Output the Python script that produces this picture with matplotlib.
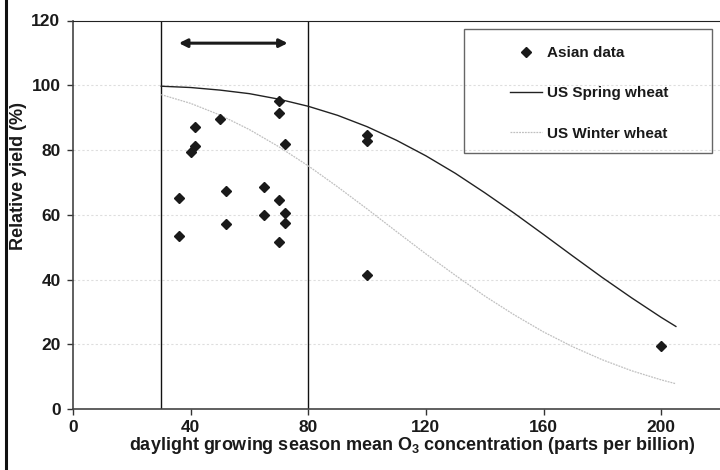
import matplotlib
matplotlib.use('Agg')
import matplotlib.pyplot as plt
from matplotlib.lines import Line2D
from matplotlib.patches import Rectangle

plt.rcParams['font.family'] = ['Liberation Sans', 'DejaVu Sans']
plt.rcParams['font.weight'] = 'bold'
plt.rcParams['mathtext.default'] = 'regular'

# Asian data (O3 ppb, relative yield %)
asian_o3 = [36, 36, 40, 41.5, 41.5, 50, 52, 52, 65, 65, 70, 70, 70, 70,
            72, 72, 72, 100, 100, 100, 200]
asian_yield = [65.1, 53.3, 79.3, 81.3, 87.1, 89.5, 67.2, 57.2, 68.6, 59.9,
               95.2, 91.5, 64.5, 51.5, 81.7, 60.4, 57.3, 84.5, 82.8, 41.4, 19.5]

# US curves
curve_o3 = [30, 40, 50, 60, 70, 80, 90, 100, 110, 120, 130, 140, 150,
            160, 170, 180, 190, 200, 205]
spring_yield = [99.7, 99.3, 98.5, 97.4, 95.7, 93.5, 90.7, 87.2, 83.0, 78.2,
                72.8, 66.8, 60.5, 53.9, 47.2, 40.6, 34.3, 28.3, 25.5]
winter_yield = [97.1, 94.4, 90.8, 86.3, 81.0, 75.1, 68.6, 61.8, 54.8, 47.9,
                41.3, 34.9, 29.1, 23.8, 19.2, 15.2, 11.8, 9.0, 7.8]

range_lines = [30, 80]
arrow_span = [36, 73]
arrow_y = 113

xticks = [0, 40, 80, 120, 160, 200]
yticks = [0, 20, 40, 60, 80, 100, 120]

fig = plt.figure(figsize=(7.2, 4.7), dpi=100)
ax = fig.add_axes([73 / 720, 1 - 409 / 470, 1 - 73 / 720, (409 - 20.5) / 470])

for y in yticks[1:-1]:
    ax.axhline(y, color='#dedede', lw=0.8, ls=(0, (2, 2)), zorder=0)

for x in range_lines:
    ax.plot([x, x], [0, 120], color='#111111', lw=1.0, zorder=2)

ax.plot(curve_o3, winter_yield, color='#c0c0c0', lw=0.9, ls=(0, (1.5, 0.8)),
        label='US Winter wheat', zorder=3)
ax.plot(curve_o3, spring_yield, color='#222222', lw=1.0,
        label='US Spring wheat', zorder=3)
ax.plot(asian_o3, asian_yield, 'D', color='#1a1a1a', ms=5.2, ls='none',
        label='Asian data', zorder=4)

ax.annotate('', xy=(arrow_span[1], arrow_y), xytext=(arrow_span[0], arrow_y),
            arrowprops=dict(arrowstyle='<|-|>', color='#1a1a1a', lw=2.2,
                            mutation_scale=12, shrinkA=0, shrinkB=0))

ax.set_xlim(0, 220)
ax.set_ylim(0, 120)
ax.set_xticks(xticks)
ax.set_yticks(yticks)
ax.tick_params(direction='out', length=4, width=1, colors='#333333',
               labelsize=12.5, labelcolor='#1a1a1a')
ax.tick_params(axis='y', pad=5)
ax.tick_params(axis='x', pad=4)
for s in ['left', 'bottom']:
    ax.spines[s].set_color('#444444')
    ax.spines[s].set_linewidth(1.2)
ax.spines['top'].set_color('#222222')
ax.spines['right'].set_visible(False)

ax.set_xlabel('daylight growing season mean O$_3$ concentration (parts per billion)',
              fontsize=13, fontweight='bold', color='#1a1a1a')
ax.xaxis.set_label_coords(0.525, -0.067)
ax.set_ylabel('Relative yield (%)', fontsize=13, fontweight='bold', color='#1a1a1a')
ax.yaxis.set_label_coords(-0.071, 0.6)

handles, labels = ax.get_legend_handles_labels()
order = [2, 1, 0]
leg = ax.legend([handles[i] for i in order], [labels[i] for i in order],
                loc='upper left', bbox_to_anchor=(510 / 720, 1 - 46 / 470),
                bbox_transform=fig.transFigure, frameon=False, borderpad=0,
                borderaxespad=0, handlelength=2.1, handletextpad=0.35,
                labelspacing=1.72, fontsize=11, numpoints=1)
for t in leg.get_texts():
    t.set_color('#1a1a1a')
fig.patches.append(Rectangle((464 / 720, 1 - 153 / 470), 248 / 720, 124 / 470,
                             transform=fig.transFigure, fill=False,
                             edgecolor='#666666', lw=1.0))

fig.lines.append(Line2D([6 / 720, 6 / 720], [0, 1], transform=fig.transFigure,
                        color='#111111', lw=2.2))

fig.savefig('out.png', dpi=100)
